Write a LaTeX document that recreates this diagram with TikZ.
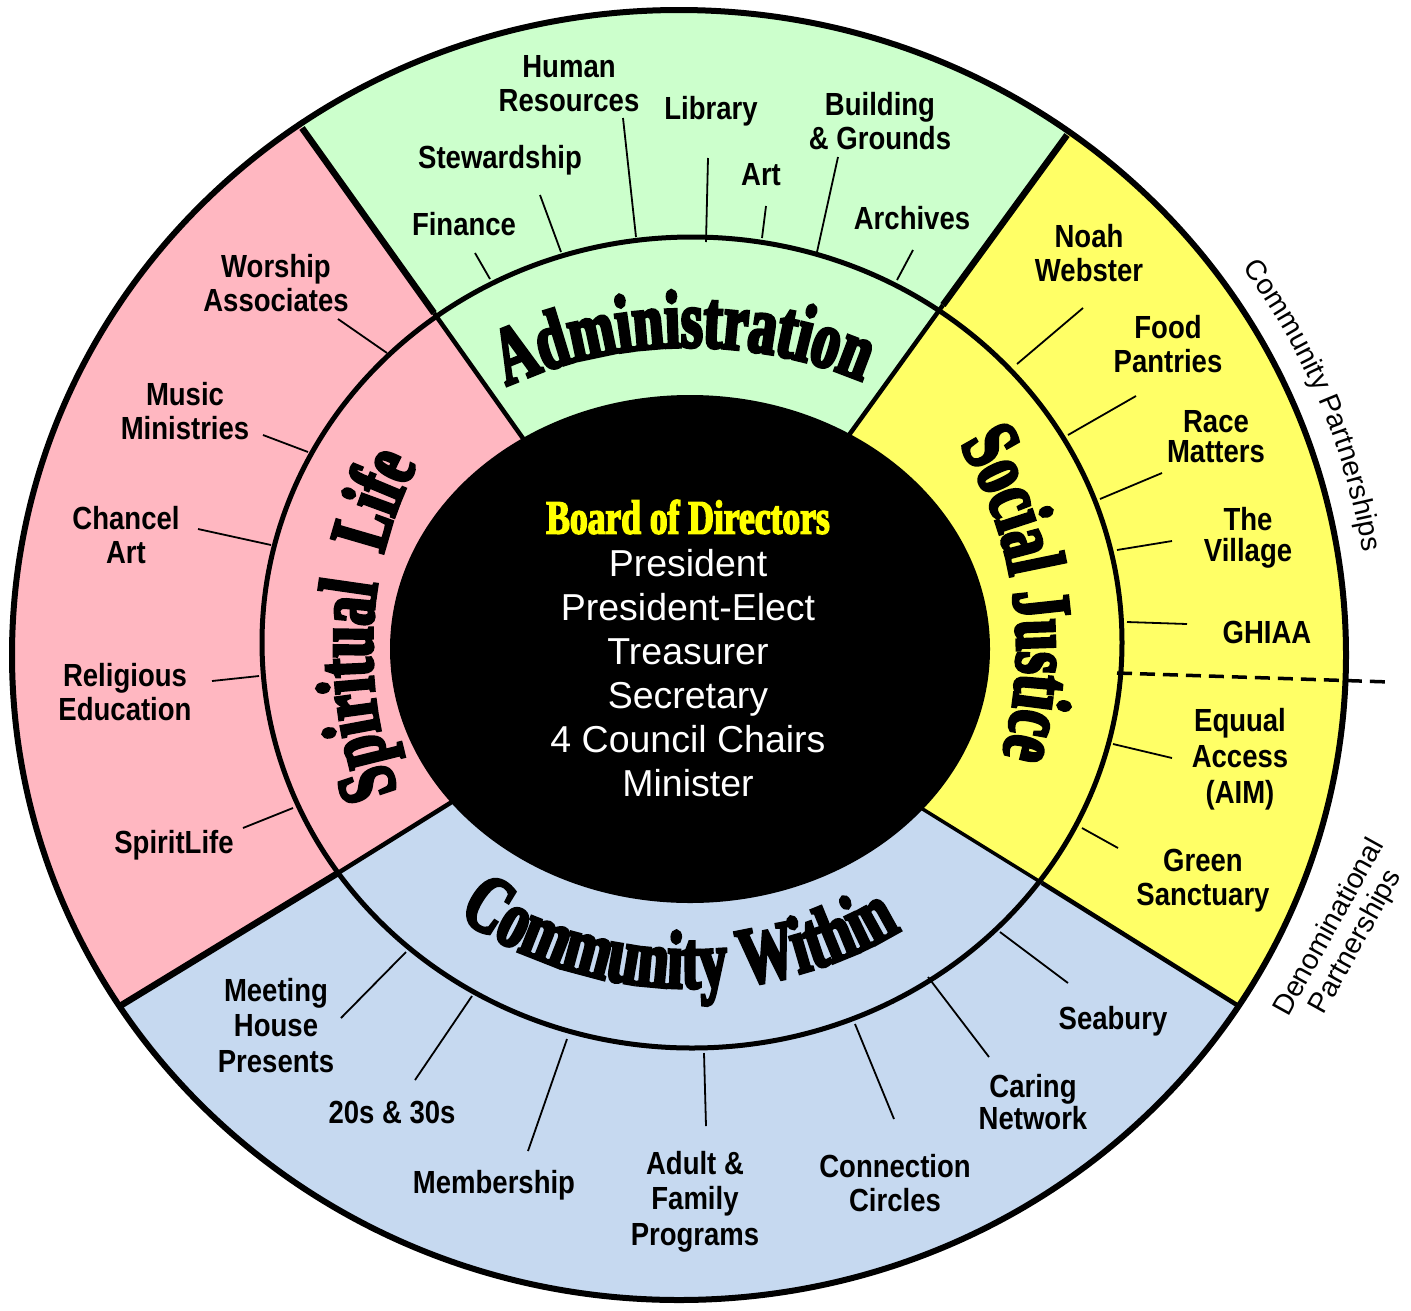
\documentclass[tikz,border=0pt]{standalone}
\usepackage{fontspec}
\setmainfont{Liberation Sans}
\newfontfamily\labfont{Liberation Sans Bold}[FakeStretch=0.86]
\newfontfamily\ringfont{Liberation Serif Bold}[FakeStretch=0.68,FakeBold=4]
\newfontfamily\boardfont{Liberation Serif Bold}[FakeStretch=0.74,FakeBold=3]
\usetikzlibrary{decorations.text}
\definecolor{pinkc}{HTML}{FFB7C1}
\definecolor{greenc}{HTML}{CCFFCC}
\definecolor{yellowc}{HTML}{FFFF66}
\definecolor{bluec}{HTML}{C6D9F0}
\definecolor{boardy}{HTML}{FFFF00}
\newcommand\RingSel{\ringfont\fontsize{82}{82}\selectfont}
\newcommand\SideSel{\fontsize{28.5}{30}\selectfont}
\begin{document}
\begin{tikzpicture}[x=1pt,y=-1pt,
  lab/.style={font=\labfont\fontsize{32}{34}\selectfont, align=center, inner sep=0pt},
  leader/.style={line width=1.8pt},
  divout/.style={line width=6.5pt},
  divin/.style={line width=4.5pt}]
\useasboundingbox (0,0) rectangle (1411,1310);
% key points of the sector dividers
\coordinate (ctr) at (690,650);
\coordinate (P1) at (522,437); \coordinate (R1) at (434,313); \coordinate (Q1) at (302,128);
\coordinate (P2) at (849,435); \coordinate (R2) at (943,305); \coordinate (Q2) at (1067,135);
\coordinate (P3) at (447,805); \coordinate (R3) at (338,873); \coordinate (Q3) at (120,1006);
\coordinate (P4) at (921,808); \coordinate (R4) at (1042,883); \coordinate (Q4) at (1237,1005);
% sector fills
\begin{scope}
\clip (679,655) ellipse [x radius=667, y radius=645];
\fill[greenc] (ctr) -- (P1) -- (140,-100) -- (1238,-100) -- (P2) -- cycle;
\fill[yellowc] (ctr) -- (P2) -- (1238,-100) -- (1500,-100) -- (1500,1169) -- (P4) -- cycle;
\fill[bluec] (ctr) -- (P4) -- (1500,1169) -- (1500,1400) -- (-100,1400) -- (-100,1141) -- (P3) -- cycle;
\fill[pinkc] (ctr) -- (P3) -- (-100,1141) -- (-100,-100) -- (140,-100) -- (P1) -- cycle;
\end{scope}
% dividers
\draw[divin, shorten <=-10pt] (P1) -- (R1);
\draw[divout] (R1) -- (Q1);
\draw[divin, shorten <=-10pt] (P2) -- (R2);
\draw[divout] (R2) -- (Q2);
\draw[divin, shorten <=-10pt] (P3) -- (R3);
\draw[divout] (R3) -- (Q3);
\draw[line width=3.5pt, shorten <=-10pt] (P4) -- (R4);
\draw[line width=4.5pt] (R4) -- (Q4);
% rings
\draw[line width=5pt] (692,642.5) ellipse [x radius=430, y radius=405.5];
\fill[black] (690,649) ellipse [x radius=300, y radius=254];
\draw[line width=6pt] (679,655) ellipse [x radius=667, y radius=645];
% dashed separator
\coordinate (d1) at (1117,673); \coordinate (d2) at (1390,682);
\draw[line width=3.5pt, dash pattern=on 15pt off 8pt] (d1) -- (d2);
% ring titles
\begin{scope}[shift={(690,649)}]
\path[decorate, decoration={text along path, text align=center, text={|\RingSel|Administration}}]
  (232:372 and 302) arc[start angle=232, end angle=306, x radius=372, y radius=302];
\path[decorate, decoration={text along path, text align=center, text={|\RingSel|Spiritual{\hspace{30pt}}Life}}]
  (134:318 and 360) arc[start angle=134, end angle=234, x radius=318, y radius=360];
\path[decorate, decoration={text along path, text align=center, text={|\RingSel|Social{\hspace{16pt}}Justice}}]
  (-59:327 and 360) arc[start angle=-59, end angle=41, x radius=327, y radius=360];
\path[decorate, decoration={text along path, text align=center, text={|\RingSel|Community{\hspace{16pt}}Within}}]
  (137:377 and 339) arc[start angle=137, end angle=47, x radius=377, y radius=339];
\end{scope}
% side titles
\begin{scope}[shift={(679,655)}]
\path[decorate, decoration={text along path, text align=center, text={|\SideSel|Community Partnerships}}]
  (-52:692 and 668) arc[start angle=-52, end angle=8, x radius=692, y radius=668];
\end{scope}
\node[rotate=61, align=center, font=\SideSel, inner sep=0pt] (denom) at (1343,935) {Denominational\\Partnerships};
% centre
\node[font=\boardfont\fontsize{48}{48}\selectfont, text=boardy, inner sep=0pt] (board) at (688,517) {Board of Directors};
\node[align=center, text=white, font=\fontsize{37.5}{44}\selectfont, inner sep=0pt] (members) at (688,673)
  {President\\President-Elect\\Treasurer\\Secretary\\4 Council Chairs\\Minister};
% labels
\node[lab] (hr) at (569,83.5) {Human\\Resources};
\node[lab] (stew) at (500,160) {Stewardship};
\node[lab] (fin) at (464,224) {Finance};
\node[lab] (lib) at (711,111) {Library};
\node[lab] (art) at (761,175) {Art};
\node[lab] (bg) at (880,121) {Building\\\& Grounds};
\node[lab] (arch) at (912,218) {Archives};
\node[lab] (wa) at (276,283) {Worship\\Associates};
\node[lab] (mm) at (185,411) {Music\\Ministries};
\node[lab] (ca) at (126,535.5) {Chancel\\Art};
\node[lab] (re) at (125,692) {Religious\\Education};
\node[lab] (sl) at (174,845) {SpiritLife};
\node[lab] (nw) at (1089,253.5) {Noah\\Webster};
\node[lab] (fp) at (1168,344) {Food\\Pantries};
\node[lab, font=\labfont\fontsize{32}{30}\selectfont] (rm) at (1216,437) {Race\\Matters};
\node[lab, font=\labfont\fontsize{32}{31}\selectfont] (tv) at (1248,537.5) {The\\Village};
\node[lab] (gh) at (1267,632) {GHIAA};
\node[lab, font=\labfont\fontsize{32}{36}\selectfont] (ea) at (1240,759.5) {Equual\\Access\\(AIM)};
\node[lab] (gs) at (1203,881) {Green\\Sanctuary};
\node[lab, font=\labfont\fontsize{32}{35.5}\selectfont] (mh) at (276,1025.5) {Meeting\\House\\Presents};
\node[lab] (tt) at (392,1112) {20s \& 30s};
\node[lab] (mem) at (494,1185) {Membership};
\node[lab, font=\labfont\fontsize{32}{35.5}\selectfont] (af) at (695,1201.5) {Adult \&\\Family\\Programs};
\node[lab] (cc) at (895,1183) {Connection\\Circles};
\node[lab, font=\labfont\fontsize{32}{32}\selectfont] (cn) at (1033,1102) {Caring\\Network};
\node[lab] (sea) at (1113,1021) {Seabury};
% leader lines
\foreach \n/\ax/\ay/\bx/\by in {
  fin/475/253/490/279, stew/540/195/561/252, hr/623/118/636/237, lib/708/158/706/242,
  art/766/206/762/238, bg/838/157/817/252, arch/913/250/897/280,
  wa/338/319/387/353, mm/263/435/308/452, ca/198/529/271/545, re/212/681/259/676, sl/243/828/293/808,
  nw/1083/308/1017/364, fp/1136/396/1068/435, rm/1162/473/1100/499, tv/1172/541/1117/550,
  gh/1187/624/1127/622, ea/1172/758/1113/744, gs/1118/848/1082/828,
  mh/341/1018/406/952, tt/415/1080/472/996, mem/528/1151/567/1039, af/706/1126/704/1053,
  cc/894/1119/855/1024, cn/989/1057/928/977, sea/1068/983/1000/932}{
  \coordinate (\n-a) at (\ax,\ay);
  \coordinate (\n-b) at (\bx,\by);
  \draw[leader] (\n-a) -- (\n-b);
}
\end{tikzpicture}
\end{document}
